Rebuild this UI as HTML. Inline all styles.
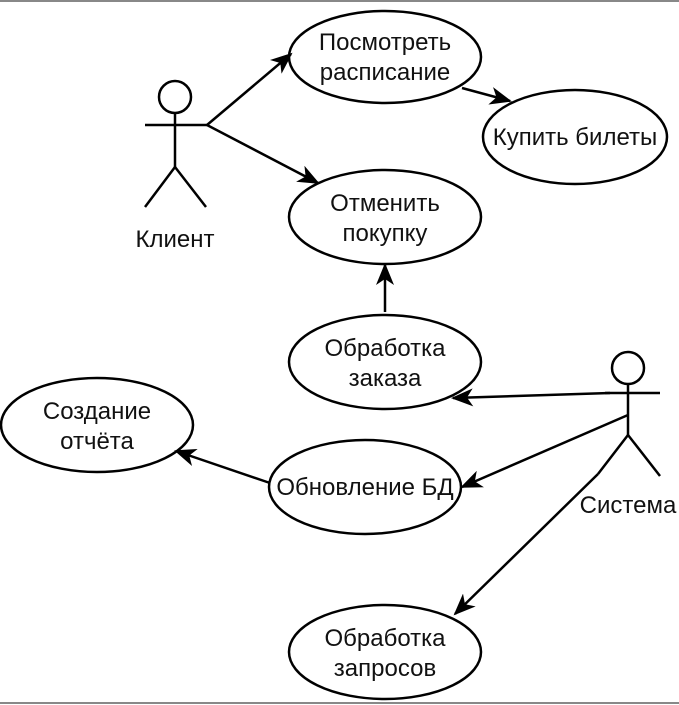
<!DOCTYPE html>
<html><head><meta charset="utf-8"><style>
html,body{margin:0;padding:0;background:#fff;}
svg{display:block;}
text{font-family:"Liberation Sans",sans-serif;font-size:24px;fill:#111;text-anchor:middle;}
</style></head><body>
<svg width="679" height="705" viewBox="0 0 679 705" xmlns="http://www.w3.org/2000/svg">
<defs><marker id="a" markerWidth="22" markerHeight="18" refX="20" refY="9" orient="auto" markerUnits="userSpaceOnUse"><path d="M0,0 L22,9 L0,18 L6,9 Z" fill="#000"/></marker></defs>
<line x1="0" y1="1" x2="679" y2="1" stroke="#888" stroke-width="2"/>
<line x1="0" y1="703" x2="679" y2="703" stroke="#888" stroke-width="2"/>
<g fill="none" stroke="#000" stroke-width="2.5">
<ellipse cx="385" cy="57" rx="96" ry="46"/>
<ellipse cx="575" cy="137" rx="92" ry="47"/>
<ellipse cx="385" cy="217" rx="96" ry="47"/>
<ellipse cx="385" cy="362" rx="96" ry="47"/>
<ellipse cx="97" cy="425" rx="96" ry="47"/>
<ellipse cx="365" cy="487" rx="96" ry="47"/>
<ellipse cx="385" cy="652" rx="96" ry="47"/>
<circle cx="175" cy="97" r="16"/>
<line x1="175" y1="113" x2="175" y2="167"/><line x1="145" y1="125" x2="207" y2="125"/>
<line x1="175" y1="167" x2="145" y2="207"/><line x1="175" y1="167" x2="206" y2="207"/>
<circle cx="628" cy="368" r="16"/>
<line x1="628" y1="384" x2="628" y2="435"/><line x1="605" y1="393" x2="660" y2="393"/>
<line x1="628" y1="435" x2="598" y2="474"/><line x1="628" y1="435" x2="660" y2="476"/>
<line x1="207" y1="125" x2="291" y2="54" marker-end="url(#a)"/>
<line x1="207" y1="125" x2="318" y2="183" marker-end="url(#a)"/>
<line x1="462" y1="88" x2="510" y2="101" marker-end="url(#a)"/>
<line x1="385" y1="312" x2="385" y2="265" marker-end="url(#a)"/>
<line x1="610" y1="393" x2="453" y2="398" marker-end="url(#a)"/>
<line x1="628" y1="415" x2="462" y2="487" marker-end="url(#a)"/>
<line x1="598" y1="474" x2="455" y2="614" marker-end="url(#a)"/>
<line x1="270" y1="483" x2="176" y2="451" marker-end="url(#a)"/>
</g>
<text x="385" y="50">Посмотреть</text><text x="385" y="80">расписание</text>
<text x="575" y="145">Купить билеты</text>
<text x="385" y="211">Отменить</text><text x="385" y="241">покупку</text>
<text x="385" y="356">Обработка</text><text x="385" y="386">заказа</text>
<text x="97" y="419">Создание</text><text x="97" y="449">отчёта</text>
<text x="365" y="495">Обновление БД</text>
<text x="385" y="646">Обработка</text><text x="385" y="676">запросов</text>
<text x="175" y="247">Клиент</text>
<text x="628" y="513">Система</text>
</svg>
</body></html>
